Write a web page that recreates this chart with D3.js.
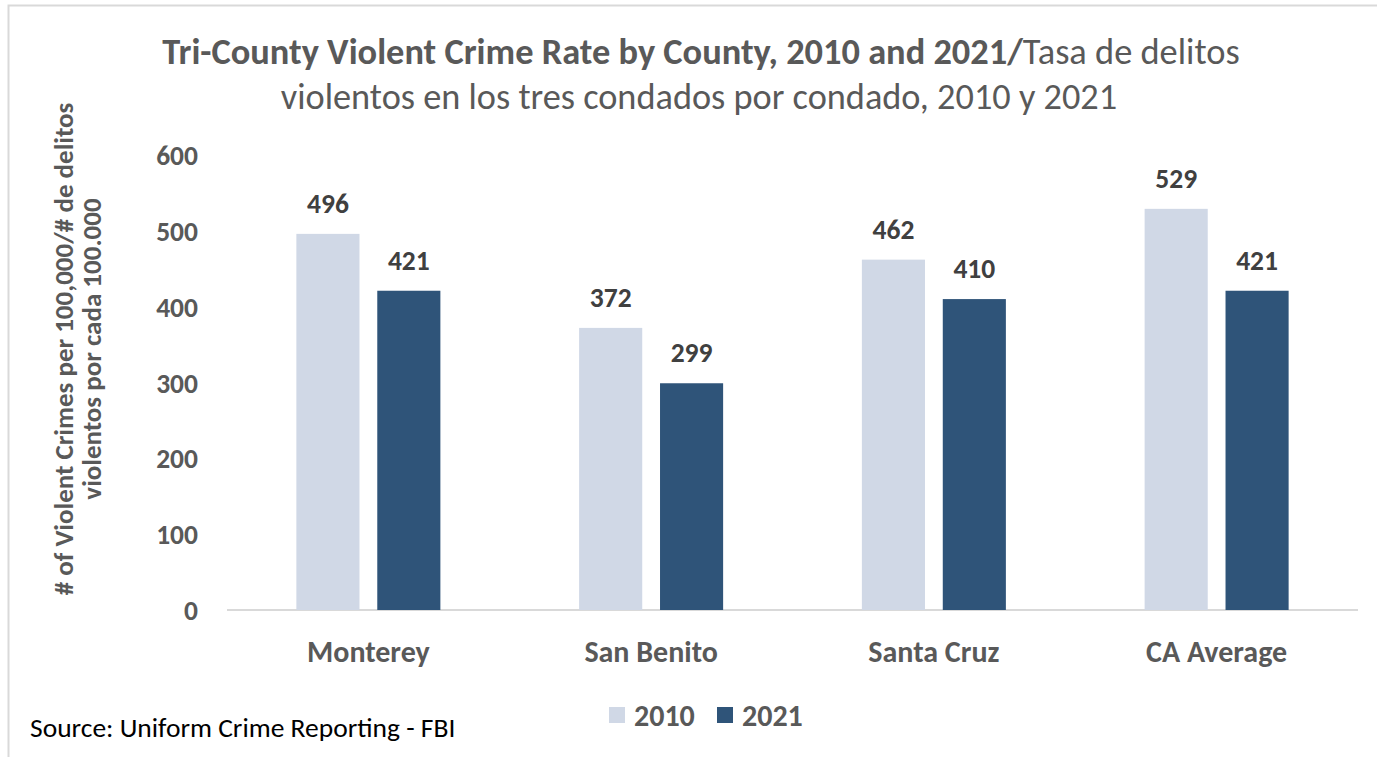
<!DOCTYPE html>
<html><head><meta charset="utf-8">
<script src="https://cdn.jsdelivr.net/npm/d3@7"></script>
<style>
body{margin:0;background:#fff;}
text{font-family:Carlito, Lato, "Open Sans", sans-serif;}
</style></head>
<body>
<svg id="c" width="1377" height="757"></svg>
<script>
const categories = ["Monterey", "San Benito", "Santa Cruz", "CA Average"];
const seriesNames = ["2010", "2021"];
const values2010 = [496, 372, 462, 529];
const values2021 = [421, 299, 410, 421];
const yTicks = [0, 100, 200, 300, 400, 500, 600];
const colors = ["#D0D8E6", "#2F5479"];

const svg = d3.select("#c");
// outer border
svg.append("path").attr("d","M8.5,757 V5.5 H1377").attr("fill","none").attr("stroke","#d9d9d9").attr("stroke-width",2);

const x0 = d3.scaleBand().domain(categories).range([227, 1358]).paddingInner(0).paddingOuter(0);
const x1 = d3.scaleBand().domain(seriesNames).range([0, 144]).paddingInner(0.22);
const y = d3.scaleLinear().domain([0, 600]).range([610, 155]);

// axis line
svg.append("line").attr("x1",227).attr("x2",1358).attr("y1",y(0)).attr("y2",y(0)).attr("stroke","#d9d9d9").attr("stroke-width",2);

// y tick labels
const yAxis = d3.axisLeft(y).tickValues(yTicks).tickSize(0).tickPadding(0);
const gy = svg.append("g").attr("transform","translate(198,0)").call(yAxis);
gy.select(".domain").remove();
gy.selectAll("text").attr("font-size",27.5).attr("font-weight","bold").attr("fill","#595959").attr("dy","0.35em").style("font-family","Carlito, Lato, sans-serif");

// x labels
const xAxis = d3.axisBottom(x0).tickSize(0).tickPadding(0);
const gx = svg.append("g").attr("transform","translate(0,651)").call(xAxis);
gx.select(".domain").remove();
gx.selectAll("text").attr("font-size",30).attr("font-weight","bold").attr("fill","#595959").attr("dy","0.35em").style("font-family","Carlito, Lato, sans-serif");

const data = categories.map((c,i)=>({cat:c, vals:[{s:"2010",v:values2010[i]},{s:"2021",v:values2021[i]}]}));
const g = svg.append("g");
const grp = g.selectAll("g.cat").data(data).join("g").attr("class","cat")
  .attr("transform", d => `translate(${x0(d.cat) + x0.bandwidth()/2 - 72},0)`);
grp.selectAll("rect").data(d=>d.vals).join("rect")
  .attr("x", d=>x1(d.s)).attr("width", x1.bandwidth())
  .attr("y", d=>y(d.v)).attr("height", d=>y(0)-y(d.v))
  .attr("fill", (d,i)=>colors[i]);
grp.selectAll("text.lbl").data(d=>d.vals).join("text").attr("class","lbl")
  .attr("x", d=>x1(d.s)+x1.bandwidth()/2).attr("y", d=>y(d.v)-21)
  .attr("text-anchor","middle").attr("font-size",27.5).attr("font-weight","bold").attr("fill","#404040")
  .text(d=>d.v);

// title
const t = svg.append("text").attr("x",701).attr("y",64).attr("text-anchor","middle").attr("font-size",36.4).attr("fill","#595959");
t.append("tspan").attr("font-weight","bold").text("Tri-County Violent Crime Rate by County, 2010 and 2021/");
t.append("tspan").text("Tasa de delitos");
svg.append("text").attr("x",699).attr("y",109).attr("text-anchor","middle").attr("font-size",36.3).attr("fill","#595959")
  .text("violentos en los tres condados por condado, 2010 y 2021");

// y axis title
const yt = svg.append("text").attr("transform","translate(0,349) rotate(-90)").attr("text-anchor","middle")
  .attr("font-size",27).attr("font-weight","bold").attr("fill","#595959");
yt.append("tspan").attr("x",0).attr("y",73).text("# of Violent Crimes per 100,000/# de delitos");
yt.append("tspan").attr("x",0).attr("y",101).text("violentos por cada 100.000");

// legend
const lg = svg.append("g").attr("transform","translate(609,715)");
seriesNames.forEach((s,i)=>{
  const gg = lg.append("g").attr("transform",`translate(${i*108},0)`);
  gg.append("rect").attr("x",0).attr("y",-8).attr("width",16).attr("height",16).attr("fill",colors[i]);
  gg.append("text").attr("x",25).attr("y",0).attr("dy","0.35em").attr("font-size",30).attr("font-weight","bold").attr("fill","#595959").text(s);
});

// source
svg.append("text").attr("x",30).attr("y",737).attr("font-size",27.5).attr("fill","#000").text("Source: Uniform Crime Reporting - FBI");
</script>
</body></html>
